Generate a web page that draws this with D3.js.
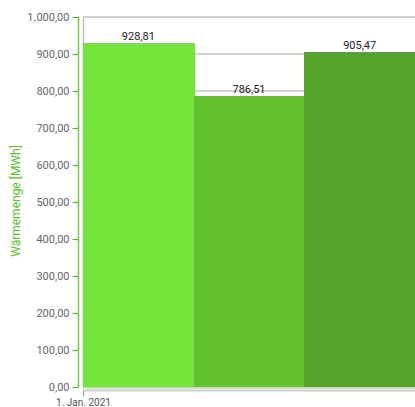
<!DOCTYPE html>
<html><head><meta charset="utf-8">
<script src="https://cdn.jsdelivr.net/npm/d3@7"></script>
<style>html,body{margin:0;padding:0;background:#fff;overflow:hidden}</style>
</head><body>
<svg id="c" width="415" height="407"></svg>
<script>
const categories = ["A", "B", "C"];
const values = [928.81, 786.51, 905.47];
const barColors = ["#76e43c", "#64c130", "#54a32c"];
const yTicks = [0, 100, 200, 300, 400, 500, 600, 700, 800, 900, 1000];
const xTickLabels = ["1. Jan. 2021"];
const yTitle = "Wärmemenge [MWh]";

(function () {
const svg = d3.select("#c");
const font = "Roboto, sans-serif";
const pL = 83, pR = 415, pT = 17, pB = 387;

const fmt = v => {
  const s = v.toFixed(2).split(".");
  const int = s[0].replace(/\B(?=(\d{3})+(?!\d))/g, ".");
  return int + "," + s[1];
};

const x = d3.scaleBand().domain(categories).range([pL, pR]).padding(0);
const y = d3.scaleLinear().domain([0, 1000]).range([pB, pT]);

// gridlines
svg.append("g").selectAll("line").data(yTicks).join("line")
  .attr("x1", pL).attr("x2", pR)
  .attr("y1", d => y(d)).attr("y2", d => y(d))
  .attr("stroke", "#c4c4c4").attr("stroke-width", 1.6);

// left plot border
svg.append("line").attr("x1", pL + 0.5).attr("x2", pL + 0.5)
  .attr("y1", pT).attr("y2", pB).attr("stroke", "#bdbdbd").attr("stroke-width", 1.5);

// bars
svg.append("g").attr("shape-rendering", "crispEdges")
  .selectAll("rect").data(values).join("rect")
  .attr("x", (d, i) => Math.round(x(categories[i])))
  .attr("width", (d, i) => Math.round(x(categories[i]) + x.bandwidth()) - Math.round(x(categories[i])) + (i < values.length - 1 ? 1 : 0))
  .attr("y", d => y(d))
  .attr("height", d => y(0) - y(d))
  .attr("fill", (d, i) => barColors[i]);

// bottom border
svg.append("line").attr("x1", pL).attr("x2", pR)
  .attr("y1", pB + 1).attr("y2", pB + 1)
  .attr("stroke", "#d0d0d0").attr("stroke-width", 1.5);

// value labels
svg.append("g").selectAll("text").data(values).join("text")
  .attr("x", (d, i) => x(categories[i]) + x.bandwidth() / 2)
  .attr("y", d => y(d) - 3)
  .attr("text-anchor", "middle")
  .attr("font-family", font).attr("font-size", 11).attr("fill", "#222")
  .text(d => fmt(d));

// y axis
const yAxis = d3.axisLeft(y).tickValues(yTicks).tickSize(6).tickPadding(3)
  .tickFormat(d => fmt(d));
const ga = svg.append("g").attr("transform", `translate(${78.5},0)`).call(yAxis);
ga.select(".domain").attr("stroke", "#79c552").attr("stroke-width", 1.5)
  .attr("d", `M0,${pT}V${pB}`);
ga.selectAll(".tick line").attr("stroke", "#5fb52f").attr("stroke-width", 1.2);
ga.selectAll(".tick text").attr("font-family", font).attr("font-size", 11).attr("fill", "#666");

// x axis
const xt = d3.scalePoint().domain(xTickLabels).range([pL, pL]);
const xAxis = d3.axisBottom(xt).tickSize(6).tickPadding(2).tickSizeOuter(0);
const gx = svg.append("g").attr("transform", `translate(0,${390.5})`).call(xAxis);
gx.select(".domain").attr("stroke", "#cccccc").attr("stroke-width", 2)
  .attr("d", `M${pL},0H${pR}`);
gx.selectAll(".tick line").attr("stroke", "#999").attr("stroke-width", 1);
gx.selectAll(".tick text").attr("font-family", font).attr("font-size", 10).attr("fill", "#555");

// y title
svg.append("text")
  .attr("transform", `translate(20,201) rotate(-90)`)
  .attr("text-anchor", "middle")
  .attr("font-family", font).attr("font-size", 12).attr("fill", "#5cbd2c")
  .text(yTitle);
})();
</script>
</body></html>
